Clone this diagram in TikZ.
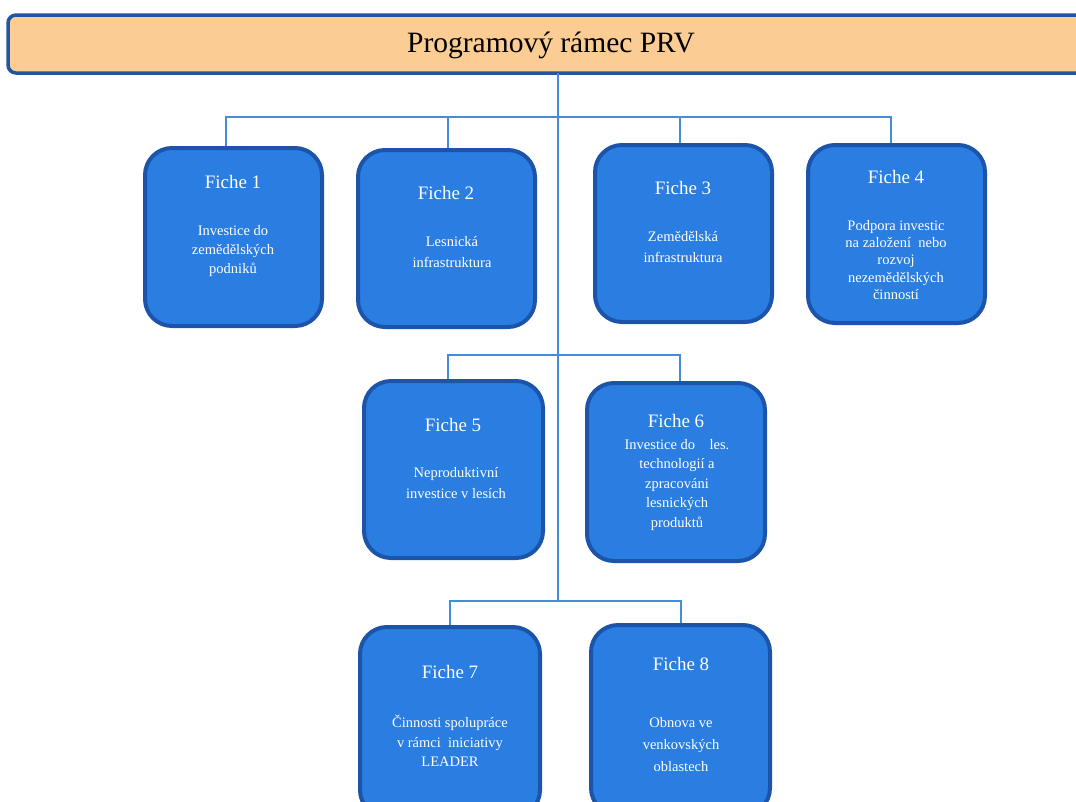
\documentclass[tikz,border=0pt]{standalone}
\usepackage{fontspec}
\setmainfont{Liberation Serif}
\begin{document}
\begin{tikzpicture}[x=1pt,y=-1pt,
  fiche/.style={draw=boxline,fill=boxfill,line width=4pt,rounded corners=27pt,inner sep=0pt},
  ftitle/.style={text=white,font=\fontsize{19}{22}\selectfont,inner sep=0pt},
  fbody/.style={text=white,align=center,inner sep=0pt},
  conn/.style={draw=connline,line width=1.5pt}]
\definecolor{boxfill}{HTML}{2A7DE1}
\definecolor{boxline}{HTML}{1B54A8}
\definecolor{titlefill}{HTML}{FBCC94}
\definecolor{titleline}{HTML}{2255A0}
\definecolor{connline}{HTML}{468CDC}
\useasboundingbox (0,0) rectangle (1076,801);
\clip (0,0) rectangle (1076,801);
% title
\node[draw=titleline,fill=titlefill,line width=3.5pt,rounded corners=8pt,minimum width=1082pt,minimum height=58pt,inner sep=0pt] (title) at (549,44) {};
\node[font=\fontsize{29.5}{32}\selectfont,inner sep=0pt] (titletext) at (551,45) {Programový rámec PRV};
% connector coordinates
\coordinate (t0) at (558,73);
\coordinate (t3) at (558,601);
\coordinate (r1a) at (226,117);
\coordinate (r1b) at (448,117);
\coordinate (r1c) at (680,117);
\coordinate (r1d) at (891,117);
\coordinate (r2a) at (448,355);
\coordinate (r2b) at (680,355);
\coordinate (r3a) at (450,601);
\coordinate (r3b) at (681,601);
% boxes
\node[fiche,minimum width=177pt,minimum height=178pt] (b1) at (233.5,237) {};
\node[fiche,minimum width=177pt,minimum height=177pt] (b2) at (446.5,238.5) {};
\node[fiche,minimum width=177pt,minimum height=177pt] (b3) at (683.5,233.5) {};
\node[fiche,minimum width=177pt,minimum height=178pt] (b4) at (896.5,234) {};
\node[fiche,minimum width=179pt,minimum height=177pt] (b5) at (453.5,469.5) {};
\node[fiche,minimum width=178pt,minimum height=178pt] (b6) at (676,472) {};
\node[fiche,minimum width=180pt,minimum height=190pt] (b7) at (450,722) {};
\node[fiche,minimum width=179pt,minimum height=190pt] (b8) at (680.5,720) {};
% connectors
\draw[conn] (t0) -- (t3);
\draw[conn] (r1a |- b1.north) -- (r1a) -- (r1d) -- (r1d |- b4.north);
\draw[conn] (r1b) -- (r1b |- b2.north);
\draw[conn] (r1c) -- (r1c |- b3.north);
\draw[conn] (r2a |- b5.north) -- (r2a) -- (r2b) -- (r2b |- b6.north);
\draw[conn] (r3a |- b7.north) -- (r3a) -- (r3b) -- (r3b |- b8.north);
% texts
\node[ftitle] (h1) at (233,182) {Fiche 1};
\node[fbody,font=\fontsize{14.5}{19}\selectfont] (d1) at (233,251) {Investice do\\zemědělských\\podniků};
\node[ftitle] (h2) at (446,193) {Fiche 2};
\node[fbody,font=\fontsize{14.5}{21}\selectfont] (d2) at (452,252) {Lesnická\\infrastruktura};
\node[ftitle] (h3) at (683,188) {Fiche 3};
\node[fbody,font=\fontsize{14.5}{21}\selectfont] (d3) at (683,247) {Zemědělská\\infrastruktura};
\node[ftitle] (h4) at (896,177) {Fiche 4};
\node[fbody,font=\fontsize{14.5}{17.3}\selectfont] (d4) at (896,260) {Podpora investic\\na založení~~nebo\\rozvoj\\nezemědělských\\činností};
\node[ftitle] (h5) at (453,425) {Fiche 5};
\node[fbody,font=\fontsize{14.5}{21}\selectfont] (d5) at (456,483) {Neproduktivní\\investice v lesích};
\node[ftitle] (h6) at (676,421) {Fiche 6};
\node[fbody,font=\fontsize{14.5}{19.5}\selectfont] (d6) at (677,485) {Investice do~~~~les.\\technologií a\\zpracováni\\lesnických\\produktů};
\node[ftitle] (h7) at (450,672) {Fiche 7};
\node[fbody,font=\fontsize{14.5}{19.5}\selectfont] (d7) at (450,741) {Činnosti spolupráce\\v rámci~~iniciativy\\LEADER};
\node[ftitle] (h8) at (681,664) {Fiche 8};
\node[fbody,font=\fontsize{14.5}{22}\selectfont] (d8) at (681,745) {Obnova ve\\venkovských\\oblastech};
\end{tikzpicture}
\end{document}
